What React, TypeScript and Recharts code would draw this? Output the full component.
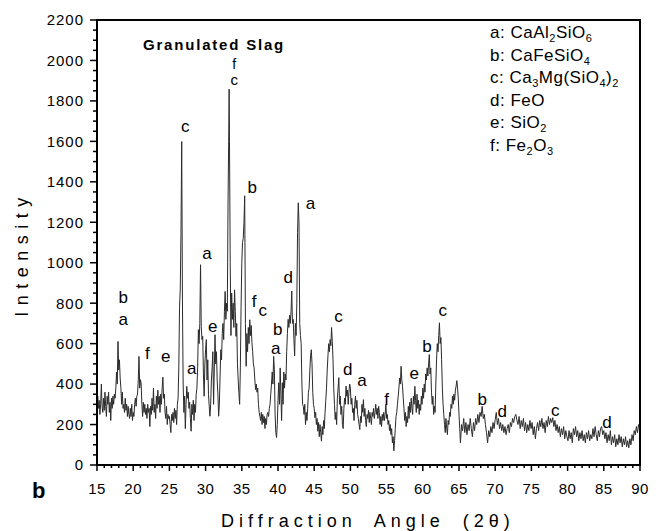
import React from 'react';
import { ComposedChart, Line, XAxis, YAxis, ReferenceArea, ReferenceDot } from 'recharts';

// Diffractograma: [2θ, contagens]
const scan15to20 = [
  [15.0, 250], [15.1, 340], [15.2, 280], [15.3, 320], [15.4, 250], [15.5, 300], [15.6, 400], [15.7, 290], [15.8, 260], [15.9, 330],
  [16.0, 270], [16.1, 360], [16.2, 290], [16.3, 240], [16.4, 340], [16.5, 300], [16.6, 360], [16.7, 260], [16.8, 310], [16.9, 220],
  [17.0, 330], [17.1, 280], [17.2, 340], [17.3, 300], [17.4, 350], [17.5, 330], [17.6, 380], [17.7, 460], [17.8, 400], [17.9, 611],
  [18.0, 470], [18.1, 520], [18.2, 430], [18.3, 380], [18.4, 300], [18.5, 360], [18.6, 280], [18.7, 300], [18.8, 260], [18.9, 330],
  [19.0, 270], [19.1, 300], [19.2, 240], [19.3, 290], [19.4, 250], [19.5, 230], [19.6, 280], [19.7, 240], [19.8, 300], [19.9, 220],
];

const scan20to25 = [
  [20.0, 260], [20.1, 240], [20.2, 300], [20.3, 330], [20.4, 290], [20.5, 340], [20.6, 350], [20.7, 420], [20.8, 537], [20.9, 380],
  [21.0, 422], [21.1, 400], [21.2, 300], [21.3, 240], [21.4, 310], [21.5, 260], [21.6, 300], [21.7, 250], [21.8, 280], [21.9, 230],
  [22.0, 300], [22.1, 260], [22.2, 280], [22.3, 190], [22.4, 290], [22.5, 250], [22.6, 330], [22.7, 270], [22.8, 380], [22.9, 260],
  [23.0, 300], [23.1, 230], [23.2, 340], [23.3, 280], [23.4, 370], [23.5, 300], [23.6, 340], [23.7, 260], [23.8, 350], [23.9, 300],
  [24.0, 380], [24.1, 434], [24.2, 330], [24.3, 350], [24.4, 260], [24.5, 230], [24.6, 290], [24.7, 200], [24.8, 250], [24.9, 230],
];

const scan25to30 = [
  [25.0, 240], [25.1, 200], [25.2, 160], [25.3, 250], [25.4, 220], [25.5, 260], [25.6, 210], [25.7, 280], [25.8, 230], [25.9, 270],
  [26.0, 200], [26.1, 300], [26.2, 330], [26.3, 480], [26.4, 780], [26.5, 870], [26.6, 1150], [26.7, 1599], [26.8, 820], [26.9, 400],
  [27.0, 260], [27.1, 340], [27.2, 180], [27.3, 300], [27.4, 389], [27.5, 330], [27.6, 360], [27.7, 280], [27.8, 310], [27.9, 230],
  [28.0, 167], [28.1, 300], [28.2, 250], [28.3, 320], [28.4, 220], [28.5, 300], [28.6, 260], [28.7, 350], [28.8, 380], [28.9, 480],
  [29.0, 669], [29.1, 600], [29.2, 700], [29.3, 990], [29.4, 685], [29.5, 620], [29.6, 636], [29.7, 450], [29.8, 340], [29.9, 500],
];

const scan30to35 = [
  [30.0, 570], [30.1, 620], [30.2, 420], [30.3, 520], [30.4, 350], [30.5, 290], [30.6, 241], [30.7, 300], [30.8, 420], [30.9, 480],
  [31.0, 560], [31.1, 300], [31.2, 470], [31.3, 644], [31.4, 500], [31.5, 560], [31.6, 420], [31.7, 350], [31.8, 241], [31.9, 300],
  [32.0, 440], [32.1, 570], [32.2, 520], [32.3, 650], [32.4, 700], [32.5, 620], [32.6, 760], [32.7, 858], [32.8, 720], [32.9, 800],
  [33.0, 760], [33.1, 1300], [33.2, 1650], [33.25, 1858], [33.3, 1600], [33.4, 1000], [33.5, 640], [33.6, 850], [33.7, 720], [33.8, 800],
  [33.9, 680], [34.0, 866], [34.1, 760], [34.2, 636], [34.3, 700], [34.4, 500], [34.5, 420], [34.6, 357], [34.7, 300], [34.8, 480], [34.9, 780],
];

const scan35to40 = [
  [35.0, 1000], [35.1, 1100], [35.2, 1120], [35.3, 1200], [35.4, 1331], [35.5, 700], [35.6, 488], [35.7, 650], [35.8, 560], [35.9, 680],
  [36.0, 600], [36.1, 718], [36.2, 640], [36.3, 690], [36.4, 605], [36.5, 560], [36.6, 500], [36.7, 480], [36.8, 420], [36.9, 373],
  [37.0, 400], [37.1, 360], [37.2, 380], [37.3, 300], [37.4, 260], [37.5, 241], [37.6, 220], [37.7, 260], [37.8, 200], [37.9, 250],
  [38.0, 210], [38.1, 240], [38.2, 180], [38.3, 230], [38.4, 200], [38.5, 250], [38.6, 260], [38.7, 240], [38.8, 280], [38.9, 300],
  [39.0, 350], [39.1, 400], [39.2, 460], [39.3, 400], [39.4, 537], [39.5, 470], [39.6, 250], [39.7, 160], [39.8, 136], [39.9, 200],
];

const scan40to45 = [
  [40.0, 320], [40.1, 407], [40.2, 300], [40.3, 480], [40.4, 350], [40.5, 220], [40.6, 407], [40.7, 300], [40.8, 460], [40.9, 380],
  [41.0, 450], [41.1, 420], [41.2, 560], [41.3, 650], [41.4, 720], [41.5, 680], [41.6, 740], [41.7, 700], [41.8, 760], [41.9, 860],
  [42.0, 700], [42.1, 720], [42.2, 620], [42.3, 540], [42.4, 700], [42.5, 640], [42.6, 800], [42.7, 1150], [42.8, 1296], [42.9, 1200],
  [43.0, 700], [43.1, 640], [43.2, 600], [43.3, 400], [43.4, 300], [43.5, 289], [43.6, 250], [43.7, 300], [43.8, 200], [43.9, 260],
  [44.0, 220], [44.1, 280], [44.2, 360], [44.3, 380], [44.4, 470], [44.5, 540], [44.6, 570], [44.7, 500], [44.8, 360], [44.9, 300],
];

const scan45to50 = [
  [45.0, 280], [45.1, 234], [45.2, 260], [45.3, 200], [45.4, 230], [45.5, 167], [45.6, 210], [45.7, 140], [45.8, 200], [45.9, 160],
  [46.0, 118], [46.1, 190], [46.2, 150], [46.3, 220], [46.4, 180], [46.5, 260], [46.6, 320], [46.7, 380], [46.8, 470], [46.9, 540],
  [47.0, 600], [47.1, 560], [47.2, 620], [47.3, 590], [47.4, 680], [47.5, 610], [47.6, 520], [47.7, 380], [47.8, 300], [47.9, 225],
  [48.0, 260], [48.1, 200], [48.2, 330], [48.3, 380], [48.4, 432], [48.5, 300], [48.6, 340], [48.7, 250], [48.8, 290], [48.9, 200],
  [49.0, 180], [49.1, 280], [49.2, 330], [49.3, 300], [49.4, 390], [49.5, 340], [49.6, 370], [49.7, 300], [49.8, 360], [49.9, 400],
];

const scan50to55 = [
  [50.0, 380], [50.1, 300], [50.2, 330], [50.3, 260], [50.4, 280], [50.5, 220], [50.6, 300], [50.7, 340], [50.8, 280], [50.9, 320],
  [51.0, 250], [51.1, 230], [51.2, 200], [51.3, 175], [51.4, 240], [51.5, 210], [51.6, 300], [51.7, 260], [51.8, 323], [51.9, 240],
  [52.0, 280], [52.1, 220], [52.2, 190], [52.3, 250], [52.4, 230], [52.5, 270], [52.6, 210], [52.7, 260], [52.8, 230], [52.9, 200],
  [53.0, 260], [53.1, 240], [53.2, 280], [53.3, 230], [53.4, 260], [53.5, 300], [53.6, 250], [53.7, 280], [53.8, 230], [53.9, 290],
  [54.0, 260], [54.1, 200], [54.2, 240], [54.3, 190], [54.4, 250], [54.5, 220], [54.6, 260], [54.7, 220], [54.8, 250], [54.9, 300],
];

const scan55to60 = [
  [55.0, 230], [55.1, 250], [55.2, 200], [55.3, 220], [55.4, 170], [55.5, 200], [55.6, 150], [55.7, 180], [55.8, 110], [55.9, 140],
  [56.0, 70], [56.1, 120], [56.2, 180], [56.3, 240], [56.4, 260], [56.5, 300], [56.6, 340], [56.7, 380], [56.8, 430], [56.9, 400],
  [57.0, 488], [57.1, 420], [57.2, 390], [57.3, 330], [57.4, 280], [57.5, 220], [57.6, 260], [57.7, 190], [57.8, 240], [57.9, 210],
  [58.0, 290], [58.1, 230], [58.2, 310], [58.3, 260], [58.4, 330], [58.5, 280], [58.6, 250], [58.7, 340], [58.8, 300], [58.9, 389],
  [59.0, 320], [59.1, 260], [59.2, 350], [59.3, 280], [59.4, 320], [59.5, 250], [59.6, 300], [59.7, 270], [59.8, 340], [59.9, 300],
];

const scan60to65 = [
  [60.0, 380], [60.1, 330], [60.2, 400], [60.3, 360], [60.4, 450], [60.5, 420], [60.6, 480], [60.7, 440], [60.8, 500], [60.9, 546],
  [61.0, 450], [61.1, 480], [61.2, 360], [61.3, 300], [61.4, 340], [61.5, 250], [61.6, 290], [61.7, 260], [61.8, 400], [61.9, 520],
  [62.0, 600], [62.1, 560], [62.2, 640], [62.3, 703], [62.4, 600], [62.5, 630], [62.6, 520], [62.7, 380], [62.8, 300], [62.9, 250],
  [63.0, 200], [63.1, 160], [63.2, 230], [63.3, 180], [63.4, 150], [63.5, 220], [63.6, 200], [63.7, 260], [63.8, 240], [63.9, 300],
  [64.0, 280], [64.1, 340], [64.2, 300], [64.3, 350], [64.4, 320], [64.5, 370], [64.6, 390], [64.7, 417], [64.8, 380], [64.9, 330],
];

const scan65to75 = [
  [65.0, 250], [65.1, 180], [65.2, 110], [65.35, 200], [65.5, 170], [65.65, 230], [65.8, 160], [65.95, 210], [66.1, 150], [66.25, 200],
  [66.4, 170], [66.55, 230], [66.7, 180], [66.85, 140], [67.0, 210], [67.15, 170], [67.3, 230], [67.45, 200], [67.6, 250], [67.75, 210],
  [67.9, 260], [68.05, 240], [68.2, 290], [68.35, 230], [68.5, 250], [68.65, 200], [68.8, 160], [68.95, 110], [69.1, 170], [69.25, 140],
  [69.4, 190], [69.55, 160], [69.7, 210], [69.85, 180], [70.0, 225], [70.15, 260], [70.3, 200], [70.45, 230], [70.6, 180], [70.75, 210],
  [70.9, 170], [71.05, 200], [71.2, 160], [71.35, 190], [71.5, 150], [71.65, 180], [71.8, 200], [71.95, 160], [72.1, 210], [72.25, 190],
  [72.4, 230], [72.55, 210], [72.7, 240], [72.85, 250], [73.0, 220], [73.15, 200], [73.3, 240], [73.45, 180], [73.6, 220], [73.75, 190],
  [73.9, 230], [74.05, 170], [74.2, 210], [74.35, 160], [74.5, 200], [74.65, 170], [74.8, 220],
];

const scan75to80 = [
  [74.95, 180], [75.1, 210], [75.25, 150], [75.4, 190], [75.55, 130], [75.7, 180], [75.85, 210], [76.0, 170], [76.15, 220], [76.3, 190],
  [76.45, 230], [76.6, 180], [76.75, 210], [76.9, 160], [77.05, 220], [77.2, 190], [77.35, 240], [77.5, 200], [77.65, 230], [77.8, 210],
  [77.95, 234], [78.1, 190], [78.25, 220], [78.4, 170], [78.55, 200], [78.7, 160], [78.85, 190], [79.0, 140], [79.15, 180], [79.3, 150],
  [79.45, 190], [79.6, 130], [79.75, 170], [79.9, 140],
];

const scan80to90 = [
  [80.05, 120], [80.2, 170], [80.35, 130], [80.5, 160], [80.65, 110], [80.8, 180], [80.95, 150], [81.1, 190], [81.25, 140], [81.4, 170],
  [81.55, 120], [81.7, 160], [81.85, 130], [82.0, 170], [82.15, 120], [82.3, 150], [82.45, 110], [82.6, 160], [82.75, 130], [82.9, 170],
  [83.05, 120], [83.2, 150], [83.35, 130], [83.5, 180], [83.65, 140], [83.8, 190], [83.95, 150], [84.1, 120], [84.25, 170], [84.4, 140],
  [84.55, 180], [84.7, 190], [84.85, 150], [85.0, 170], [85.15, 130], [85.3, 160], [85.45, 110], [85.6, 150], [85.75, 120], [85.9, 170],
  [86.05, 100], [86.2, 140], [86.35, 110], [86.5, 150], [86.65, 90], [86.8, 130], [86.95, 100], [87.1, 150], [87.25, 110], [87.4, 140],
  [87.55, 90], [87.7, 130], [87.85, 100], [88.0, 140], [88.15, 90], [88.3, 120], [88.45, 85], [88.6, 130], [88.75, 100], [88.9, 150],
  [89.05, 120], [89.2, 170], [89.35, 150], [89.5, 190], [89.65, 160], [89.8, 200], [89.9, 180],
];

// Letras das fases sobre os picos
const peakLabels = [
  { letter: 'b', angle: 18.63, counts: 830 },
  { letter: 'a', angle: 18.63, counts: 723 },
  { letter: 'f', angle: 21.95, counts: 555 },
  { letter: 'e', angle: 24.5, counts: 539 },
  { letter: 'c', angle: 27.2, counts: 1675 },
  { letter: 'a', angle: 28.1, counts: 481 },
  { letter: 'a', angle: 30.2, counts: 1049 },
  { letter: 'e', angle: 31.0, counts: 687 },
  { letter: 'f', angle: 33.96, counts: 1980, size: 14 },
  { letter: 'c', angle: 33.96, counts: 1904, size: 15 },
  { letter: 'b', angle: 36.45, counts: 1375 },
  { letter: 'f', angle: 36.7, counts: 813 },
  { letter: 'c', angle: 37.9, counts: 768 },
  { letter: 'b', angle: 39.97, counts: 674 },
  { letter: 'a', angle: 39.7, counts: 578 },
  { letter: 'd', angle: 41.42, counts: 928 },
  { letter: 'a', angle: 44.5, counts: 1294 },
  { letter: 'c', angle: 48.37, counts: 735 },
  { letter: 'd', angle: 49.64, counts: 477 },
  { letter: 'a', angle: 51.6, counts: 422 },
  { letter: 'f', angle: 55.0, counts: 328 },
  { letter: 'e', angle: 58.83, counts: 455 },
  { letter: 'b', angle: 60.58, counts: 587 },
  { letter: 'c', angle: 62.74, counts: 768 },
  { letter: 'b', angle: 68.2, counts: 328 },
  { letter: 'd', angle: 70.98, counts: 266 },
  { letter: 'c', angle: 78.3, counts: 274 },
  { letter: 'd', angle: 85.44, counts: 212 },
];

const xMajorTicks = [15, 20, 25, 30, 35, 40, 45, 50, 55, 60, 65, 70, 75, 80, 85, 90];
const yMajorTicks = [0, 200, 400, 600, 800, 1000, 1200, 1400, 1600, 1800, 2000, 2200];

const FONT = '"Liberation Sans", Arial, sans-serif';

const chartData = [
  ...scan15to20, ...scan20to25, ...scan25to30, ...scan30to35, ...scan35to40, ...scan40to45,
  ...scan45to50, ...scan50to55, ...scan55to60, ...scan60to65, ...scan65to75, ...scan75to80, ...scan80to90,
].map(([angle, counts]) => ({ angle, counts }));

// ticks menores: 1 grau no eixo x, 50 contagens no eixo y
const xTicks: number[] = [];
for (let v = 15; v <= 90; v++) xTicks.push(v);
const yTicks: number[] = [];
for (let v = 0; v <= 2200; v += 50) yTicks.push(v);

function XTick(props: any) {
  const { x, y, payload } = props;
  const major = xMajorTicks.includes(payload.value);
  return (
    <g>
      <line x1={x} x2={x} y1={y} y2={y + (major ? 6 : 3)} stroke="#000" strokeWidth={1.5} />
      {major && (
        <text x={x} y={y + 29} textAnchor="middle" fontSize={15} letterSpacing={0.5} fontFamily={FONT} fill="#000">
          {payload.value}
        </text>
      )}
    </g>
  );
}

function YTick(props: any) {
  const { x, y, payload } = props;
  const major = yMajorTicks.includes(payload.value);
  return (
    <g>
      <line x1={x} x2={x - (major ? 7 : 4)} y1={y} y2={y} stroke="#000" strokeWidth={1.5} />
      {major && (
        <text x={x - 13} y={y} dy="0.36em" textAnchor="end" fontSize={15} letterSpacing={1} fontFamily={FONT} fill="#000">
          {payload.value}
        </text>
      )}
    </g>
  );
}

const sub = (t: string) => (
  <tspan dy={4} fontSize={11}>{t}</tspan>
);
const up = (t: string) => <tspan dy={-4}>{t}</tspan>;

export default function App() {
  return (
    <div style={{ position: 'absolute', left: 0, top: 0, width: 660, height: 531, background: '#fff' }}>
      <ComposedChart width={660} height={531} data={chartData} margin={{ top: 20, right: 20, bottom: 0, left: 0 }}>
        <XAxis
          dataKey="angle"
          type="number"
          domain={[15, 90]}
          ticks={xTicks}
          interval={0}
          tickSize={0}
          tickMargin={0}
          tickLine={false}
          tick={<XTick />}
          height={66}
          axisLine={{ stroke: '#000', strokeWidth: 2 }}
        />
        <YAxis
          type="number"
          domain={[0, 2200]}
          ticks={yTicks}
          interval={0}
          tickSize={0}
          tickMargin={0}
          tickLine={false}
          tick={<YTick />}
          width={97}
          axisLine={{ stroke: '#000', strokeWidth: 2 }}
        />
        <ReferenceArea x1={15} x2={90} y1={0} y2={2200} fill="none" stroke="#000" strokeWidth={2} />
        <Line
          type="linear"
          dataKey="counts"
          stroke="#2b2b2b"
          strokeWidth={1}
          dot={false}
          isAnimationActive={false}
        />
        {peakLabels.map((p, i) => (
          <ReferenceDot
            key={i}
            x={p.angle}
            y={p.counts}
            r={0}
            fill="none"
            stroke="none"
            label={{ value: p.letter, position: 'center', fontSize: p.size || 17, fill: '#000', fontFamily: FONT }}
          />
        ))}
      </ComposedChart>
      <svg width={660} height={531} style={{ position: 'absolute', left: 0, top: 0, pointerEvents: 'none' }} fontFamily={FONT} fill="#000">
        <text x={143} y={50} fontSize={15} fontWeight="bold" letterSpacing={1.8}>Granulated Slag</text>
        <g fontSize={17} letterSpacing={0.5}>
          <text x={490} y={38}>a: CaAl{sub('2')}{up('SiO')}{sub('6')}</text>
          <text x={490} y={60.5}>b: CaFeSiO{sub('4')}</text>
          <text x={490} y={83}>c: Ca{sub('3')}{up('Mg(SiO')}{sub('4')}{up(')')}{sub('2')}</text>
          <text x={490} y={105.5}>d: FeO</text>
          <text x={490} y={128}>e: SiO{sub('2')}</text>
          <text x={490} y={150.5}>f: Fe{sub('2')}{up('O')}{sub('3')}</text>
        </g>
        <text x={32} y={498} fontSize={22} fontWeight="bold">b</text>
        <text x={368} y={527} textAnchor="middle" fontSize={18} letterSpacing={5} wordSpacing={8}>
          Diffraction Angle (2θ)
        </text>
        <text transform="translate(28,254) rotate(-90)" textAnchor="middle" fontSize={18} letterSpacing={6.5}>
          Intensity
        </text>
      </svg>
    </div>
  );
}
